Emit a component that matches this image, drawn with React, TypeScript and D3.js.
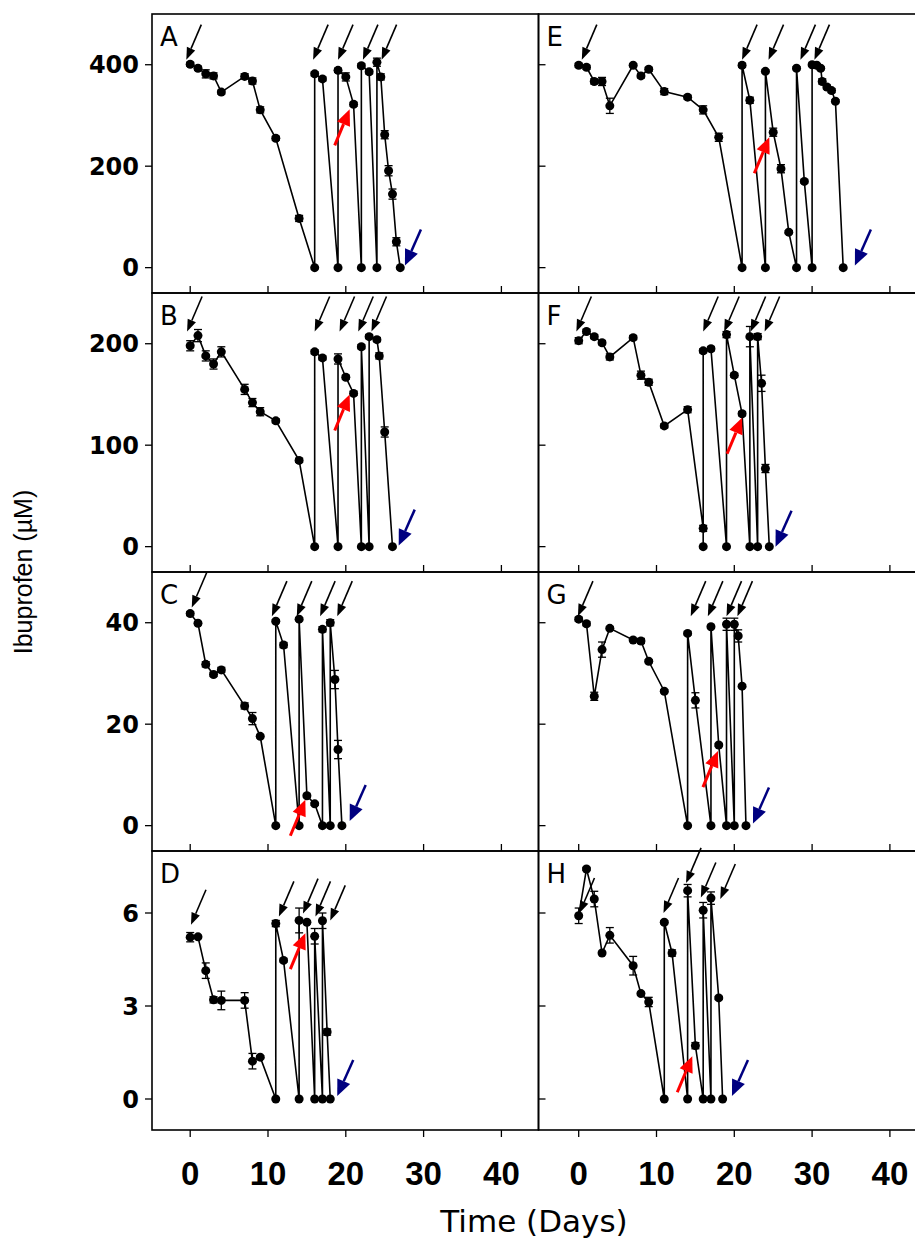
import React from "react";
import * as d3 from "d3";

// x axis ticks (days)
const dayTicks = [0, 10, 20, 30, 40];

// panel A
const daysA = [0, 1, 2, 3, 4, 7, 8, 9, 11, 14, 16, 16, 17, 19, 19, 20, 21, 22, 22, 23, 24, 24, 24.5, 25, 25.5, 26, 26.5, 27];
const ibuA = [401, 393, 382, 378, 346, 377, 368, 311, 255, 97, 0, 382, 372, 0, 389, 376, 322, 0, 398, 386, 0, 405, 376, 262, 191, 145, 51, 0];
const errA = [4, 4, 8, 6, 4, 5, 6, 6, 4, 6, 0, 4, 4, 0, 4, 8, 4, 0, 4, 4, 0, 8, 6, 8, 10, 10, 8, 0];
const doseA = [[-0.5, 410], [15.8, 410], [19, 410], [22.2, 410], [24.6, 410]];
const redA = [20.5, 312];
const blueA = [27.6, 4];

// panel E
const daysE = [0, 1, 2, 3, 4, 7, 8, 9, 11, 14, 16, 18, 21, 21, 22, 24, 24, 25, 26, 27, 28, 28, 29, 30, 30, 30.6, 31.1, 31.3, 31.9, 32.5, 33, 34];
const ibuE = [399, 395, 367, 367, 319, 399, 378, 391, 347, 336, 311, 257, 0, 399, 330, 0, 387, 267, 195, 70, 0, 393, 170, 0, 400, 399, 393, 367, 356, 349, 328, 0];
const errE = [4, 4, 5, 8, 15, 3, 4, 4, 6, 4, 8, 8, 0, 4, 6, 0, 3, 8, 8, 3, 0, 3, 3, 0, 3, 3, 3, 5, 4, 4, 3, 0];
const doseE = [[0.4, 410], [21, 410], [24.4, 410], [28.5, 410], [30.3, 410]];
const redE = [24.5, 257];
const blueE = [35.5, 4];

// panel B
const daysB = [0, 1, 2, 3, 4, 7, 8, 9, 11, 14, 16, 16, 17, 19, 19, 20, 21, 22, 22, 23, 23, 24, 24.3, 25, 26];
const ibuB = [198, 208, 188, 180, 192, 155, 142, 133, 124, 85, 0, 192, 186, 0, 185, 167, 151, 0, 197, 0, 207, 204, 188, 113, 0];
const errB = [5, 6, 5, 5, 5, 5, 4, 4, 2, 2, 0, 2, 2, 0, 5, 2, 2, 0, 2, 0, 2, 2, 3, 5, 0];
const doseB = [[-0.4, 212], [16, 212], [19.2, 212], [21.6, 212], [23.3, 212]];
const redB = [20.5, 150];
const blueB = [26.8, 1];

// panel F
const daysF = [0, 1, 2, 3, 4, 7, 8, 9, 11, 14, 16, 16, 16, 17, 19, 19, 20, 21, 22, 22, 23, 23, 23.5, 24, 24.5];
const ibuF = [203, 212, 207, 201, 187, 206, 169, 162, 119, 135, 18, 0, 193, 195, 0, 209, 169, 131, 0, 207, 0, 207, 161, 77, 0];
const errF = [3, 2, 2, 2, 3, 2, 4, 3, 2, 3, 3, 0, 2, 2, 0, 3, 2, 2, 0, 10, 0, 3, 8, 4, 0];
const doseF = [[-0.3, 212], [16, 212], [18.7, 212], [22.1, 212], [23.9, 212]];
const redF = [21, 127];
const blueF = [25.3, 0];

// panel C
const daysC = [0, 1, 2, 3, 4, 7, 8, 9, 11, 11, 12, 14, 14, 15, 16, 17, 17, 18, 18, 18.6, 19, 19.5];
const ibuC = [41.8, 39.9, 31.8, 29.8, 30.7, 23.6, 21.1, 17.6, 0, 40.3, 35.6, 0, 40.7, 5.9, 4.3, 0, 38.7, 0, 40, 28.8, 15, 0];
const errC = [0.4, 0.3, 0.5, 0.4, 0.5, 0.6, 1.2, 0.3, 0, 0.3, 0.5, 0, 0.3, 0.3, 0.3, 0, 0.5, 0, 0.6, 1.8, 1.8, 0];
const doseC = [[0.2, 43], [10.5, 41.3], [13.7, 41.3], [16.7, 41.3], [18.9, 41.3]];
const redC = [14.8, 5.1];
const blueC = [20.5, 0.9];

// panel G
const daysG = [0, 1, 2, 3, 4, 7, 8, 9, 11, 14, 14, 15, 17, 17, 18, 19, 19, 20, 20, 20.5, 21, 21.5];
const ibuG = [40.7, 39.8, 25.5, 34.7, 38.9, 36.6, 36.4, 32.4, 26.5, 0, 37.9, 24.7, 0, 39.2, 15.9, 0, 39.7, 0, 39.7, 37.4, 27.5, 0];
const errG = [0.4, 0.4, 0.8, 1.5, 0.3, 0.3, 0.5, 0.3, 0.3, 0, 0.3, 1.5, 0, 0.3, 0.3, 0, 1.2, 0, 1.2, 1.2, 0.3, 0];
const doseG = [[-0.1, 41.3], [14.4, 41.3], [16.6, 41.3], [19, 41.3], [20.4, 41.3]];
const redG = [17.9, 14.7];
const blueG = [22.4, 0.4];

// panel D
const daysD = [0, 1, 2, 3, 4, 7, 8, 9, 11, 11, 12, 14, 14, 15, 16, 16, 17, 17, 17.6, 18];
const ibuD = [5.22, 5.23, 4.14, 3.2, 3.18, 3.18, 1.22, 1.35, 0, 5.66, 4.47, 0, 5.76, 5.7, 0, 5.25, 0, 5.75, 2.16, 0];
const errD = [0.15, 0.05, 0.25, 0.1, 0.3, 0.25, 0.25, 0.05, 0, 0.1, 0.05, 0, 0.4, 0.05, 0, 0.25, 0, 0.25, 0.1, 0];
const doseD = [[0.1, 5.62], [11.4, 5.89], [14.5, 5.98], [16.1, 5.89], [18, 5.76]];
const redD = [14.8, 5.35];
const blueD = [18.9, 0.1];

// panel H
const daysH = [0, 1, 2, 3, 4, 7, 8, 9, 11, 11, 12, 14, 14, 15, 16, 16, 17, 17, 18, 18.5];
const ibuH = [5.91, 7.42, 6.45, 4.71, 5.28, 4.3, 3.4, 3.13, 0, 5.7, 4.71, 0, 6.72, 1.72, 0, 6.09, 0, 6.48, 3.26, 0];
const errH = [0.25, 0.05, 0.25, 0.05, 0.25, 0.3, 0.05, 0.15, 0, 0.05, 0.1, 0, 0.2, 0.1, 0, 0.25, 0, 0.2, 0.05, 0];
const doseH = [[0.1, 6.0], [10.9, 6.0], [13.8, 6.97], [15.7, 6.5], [18.2, 6.45]];
const redH = [14.6, 1.38];
const blueH = [19.7, 0.1];

// y axis per row
const rowDomains = [[-50, 500], [-25, 250], [-5, 50], [-1, 8]];
const rowTicks = [[0, 200, 400], [0, 100, 200], [0, 20, 40], [0, 3, 6]];

const panels = [
  { id: "A", col: 0, row: 0, days: daysA, ibu: ibuA, err: errA, dose: doseA, red: redA, blue: blueA },
  { id: "B", col: 0, row: 1, days: daysB, ibu: ibuB, err: errB, dose: doseB, red: redB, blue: blueB },
  { id: "C", col: 0, row: 2, days: daysC, ibu: ibuC, err: errC, dose: doseC, red: redC, blue: blueC },
  { id: "D", col: 0, row: 3, days: daysD, ibu: ibuD, err: errD, dose: doseD, red: redD, blue: blueD },
  { id: "E", col: 1, row: 0, days: daysE, ibu: ibuE, err: errE, dose: doseE, red: redE, blue: blueE },
  { id: "F", col: 1, row: 1, days: daysF, ibu: ibuF, err: errF, dose: doseF, red: redF, blue: blueF },
  { id: "G", col: 1, row: 2, days: daysG, ibu: ibuG, err: errG, dose: doseG, red: redG, blue: blueG },
  { id: "H", col: 1, row: 3, days: daysH, ibu: ibuH, err: errH, dose: doseH, red: redH, blue: blueH },
];

// layout
const W = 915;
const H = 1238;
const colX = [152, 538.5];
const colW = 386.5;
const rowTop = [14, 293, 572, 851];
const rowH = 279;
const zeroX = [190.2, 578.7];
const tickLen = 7;

const xScale = (col: number) =>
  d3.scaleLinear().domain([0, 40]).range([zeroX[col], zeroX[col] + 4 * 77.8]);
const yScale = (row: number) =>
  d3.scaleLinear().domain(rowDomains[row]).range([rowTop[row] + rowH, rowTop[row]]);

function Arrow({ x, y, dx, dy, color, width, headLen, headW }: any) {
  const len = Math.hypot(dx, dy);
  const ux = dx / len;
  const uy = dy / len;
  const bx = x + ux * headLen;
  const by = y + uy * headLen;
  const px = -uy;
  const py = ux;
  const pts = [
    [x, y],
    [bx + px * headW, by + py * headW],
    [bx - px * headW, by - py * headW],
  ];
  return (
    <g>
      <line x1={x + dx} y1={y + dy} x2={bx} y2={by} stroke={color} strokeWidth={width} />
      <polygon points={pts.map((p) => p.join(",")).join(" ")} fill={color} />
    </g>
  );
}

function Panel({ p }: any) {
  const x = xScale(p.col);
  const y = yScale(p.row);
  const x0 = colX[p.col];
  const top = rowTop[p.row];
  const bottom = top + rowH;
  const isBottom = p.row === 3;
  const pts = p.days.map((d: number, i: number) => [d, p.ibu[i], p.err[i]]);
  const line = d3
    .line<number[]>()
    .x((d) => x(d[0]))
    .y((d) => y(d[1]));

  return (
    <g>
      <rect x={x0} y={top} width={colW} height={rowH} fill="none" stroke="#000" strokeWidth={1.6} />
      {/* x ticks */}
      {dayTicks.map((t) => (
        <line
          key={"xt" + t}
          x1={x(t)}
          x2={x(t)}
          y1={bottom}
          y2={isBottom ? bottom + tickLen : bottom - tickLen}
          stroke="#000"
          strokeWidth={1.3}
        />
      ))}
      {isBottom &&
        dayTicks.map((t) => (
          <text
            key={"xl" + t}
            x={x(t)}
            y={1185}
            textAnchor="middle"
            fontFamily="'Liberation Sans', Arial, sans-serif"
            fontWeight="bold"
            fontSize={33}
          >
            {t}
          </text>
        ))}
      {/* y ticks */}
      {rowTicks[p.row].map((t) => (
        <line
          key={"yt" + t}
          x1={x0}
          x2={p.col === 0 ? x0 - tickLen : x0 + tickLen}
          y1={y(t)}
          y2={y(t)}
          stroke="#000"
          strokeWidth={1.3}
        />
      ))}
      {p.col === 0 &&
        rowTicks[p.row].map((t) => (
          <text
            key={"yl" + t}
            x={139}
            y={y(t)}
            dy="0.36em"
            textAnchor="end"
            fontFamily="'DejaVu Sans', Verdana, sans-serif"
            fontWeight="bold"
            fontSize={24}
          >
            {t}
          </text>
        ))}
      <text x={x0 + 8} y={top + 32} fontFamily="'DejaVu Sans', Verdana, sans-serif" fontSize={26}>
        {p.id}
      </text>
      {/* data line */}
      <path d={line(pts) || ""} fill="none" stroke="#000" strokeWidth={1.6} />
      {pts
        .filter((d: number[]) => d[2] > 0)
        .map((d: number[], i: number) => (
          <g key={"e" + i} stroke="#000" strokeWidth={1.3}>
            <line x1={x(d[0])} x2={x(d[0])} y1={y(d[1] - d[2])} y2={y(d[1] + d[2])} />
            <line x1={x(d[0]) - 4} x2={x(d[0]) + 4} y1={y(d[1] - d[2])} y2={y(d[1] - d[2])} />
            <line x1={x(d[0]) - 4} x2={x(d[0]) + 4} y1={y(d[1] + d[2])} y2={y(d[1] + d[2])} />
          </g>
        ))}
      {pts.map((d: number[], i: number) => (
        <circle key={"c" + i} cx={x(d[0])} cy={y(d[1])} r={4.5} fill="#000" />
      ))}
      {/* dosing arrows */}
      {p.dose.map((d: number[], i: number) => (
        <Arrow key={"a" + i} x={x(d[0])} y={y(d[1])} dx={15} dy={-35} color="#000" width={1.6} headLen={12} headW={4.5} />
      ))}
      <Arrow x={x(p.red[0])} y={y(p.red[1])} dx={-15} dy={36} color="#ff0000" width={3} headLen={16} headW={7} />
      <Arrow x={x(p.blue[0])} y={y(p.blue[1])} dx={16} dy={-36} color="#000080" width={2.5} headLen={16} headW={7} />
    </g>
  );
}

export default function App() {
  return (
    <svg width={W} height={H} style={{ display: "block", position: "absolute", left: 0, top: 0, background: "#fff" }}>
      <rect x={0} y={0} width={W} height={H} fill="#fff" />
      {panels.map((p) => (
        <Panel key={p.id} p={p} />
      ))}
      <text
        transform="translate(23,572) rotate(-90)"
        textAnchor="middle"
        dy="0.35em"
        fontFamily="'Liberation Sans', Arial, sans-serif"
        fontSize={25}
      >
        Ibuprofen (µM)
      </text>
      <text x={534} y={1232} textAnchor="middle" fontFamily="'DejaVu Sans', Verdana, sans-serif" fontSize={31}>
        Time (Days)
      </text>
    </svg>
  );
}
